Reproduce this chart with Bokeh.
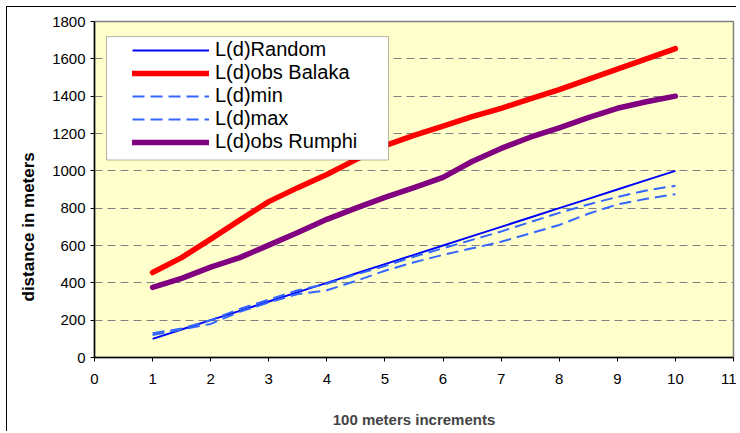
import math
from bokeh.plotting import figure
from bokeh.models import (Range1d, FixedTicker, Legend, LegendItem, BoxAnnotation, Title)
from bokeh.embed import file_html
from bokeh.resources import INLINE

# ---- data ----
x_vals = [1, 1.5, 2, 2.5, 3, 3.5, 4, 4.5, 5, 5.5, 6, 6.5, 7, 7.5, 8, 8.5, 9, 9.5, 10]
ld_random = [100, 150, 200, 250, 300, 350, 400, 450, 500, 550, 600, 650, 700, 750, 800, 850, 900, 950, 1000]
ld_balaka = [455, 535, 634, 736, 835, 910, 980, 1060, 1135, 1190, 1240, 1290, 1335, 1385, 1435, 1490, 1545, 1600, 1655]
ld_min = [120, 150, 180, 245, 295, 340, 360, 410, 465, 510, 550, 585, 620, 665, 710, 770, 820, 850, 875]
ld_max = [130, 155, 200, 260, 310, 360, 395, 445, 490, 540, 585, 630, 675, 725, 775, 820, 860, 895, 920]
ld_rumphi = [376, 424, 484, 535, 602, 670, 740, 800, 858, 910, 965, 1050, 1120, 1180, 1230, 1285, 1335, 1370, 1400]

x_ticks = list(range(0, 12))
y_ticks = list(range(0, 2000, 200))

FONT = "Liberation Sans"

p = figure(width=730, height=425, output_backend="svg", toolbar_location=None,
           x_range=Range1d(0, 11), y_range=Range1d(0, 1800),
           min_border_left=87, min_border_top=14, min_border_right=4, min_border_bottom=75,
           background_fill_color="#FFFFCC", border_fill_color="white",
           outline_line_color="#808080", outline_line_width=1.5,
           styles={"border-left": "1px solid black", "border-top": "1px solid black",
                   "margin-left": "6px", "margin-top": "6px"})

p.xgrid.visible = False
p.ygrid.grid_line_color = "#808080"
p.ygrid.grid_line_dash = "8 5"
p.ygrid.grid_line_width = 1

for ax in (p.xaxis[0], p.yaxis[0]):
    ax.axis_line_color = "black"
    ax.axis_line_width = 1.5
    ax.major_tick_in = 0
    ax.major_tick_out = 4
    ax.major_tick_line_color = "black"
    ax.minor_tick_line_color = None
    ax.major_label_text_font = FONT
    ax.major_label_text_font_size = "15px"
    ax.major_label_text_color = "black"

p.xaxis.ticker = FixedTicker(ticks=x_ticks)
p.yaxis.ticker = FixedTicker(ticks=y_ticks)
p.xaxis.major_label_standoff = 12
p.yaxis.major_label_standoff = 5
p.xaxis.axis_label = "100 meters increments"
p.xaxis.axis_label_text_font = FONT
p.xaxis.axis_label_text_font_style = "bold"
p.xaxis.axis_label_text_font_size = "15px"
p.xaxis.axis_label_standoff = 24

ytitle = Title(text="distance in meters", align="left", offset=56, standoff=20,
               vertical_align="top",
               text_font=FONT, text_font_style="bold", text_font_size="17px",
               text_color="black")
p.add_layout(ytitle, "left")

r_random = p.line(x_vals, ld_random, line_color="#0000FF", line_width=2)
r_balaka = p.line(x_vals, ld_balaka, line_color="#FF0000", line_width=5.5, line_cap="round", line_join="round")
r_min = p.line(x_vals, ld_min, line_color="#3366FF", line_width=2, line_dash="12 6")
r_max = p.line(x_vals, ld_max, line_color="#3366FF", line_width=2, line_dash="12 6")
r_rumphi = p.line(x_vals, ld_rumphi, line_color="#800080", line_width=5.5, line_cap="round", line_join="round")

box = BoxAnnotation(left=0.207, right=5.06, top=1719, bottom=1058,
                    fill_color="white", fill_alpha=1.0,
                    line_color="black", line_width=1, level="overlay")
p.add_layout(box)

legend = Legend(items=[
    LegendItem(label="L(d)Random", renderers=[r_random]),
    LegendItem(label="L(d)obs Balaka", renderers=[r_balaka]),
    LegendItem(label="L(d)min", renderers=[r_min]),
    LegendItem(label="L(d)max", renderers=[r_max]),
    LegendItem(label="L(d)obs Rumphi", renderers=[r_rumphi]),
], location=(34, 200), padding=4, spacing=-2, margin=0,
    glyph_width=77, glyph_height=20, label_height=20, label_standoff=6,
    label_text_font=FONT, label_text_font_size="20px", label_text_color="black",
    background_fill_alpha=0, border_line_alpha=0)
p.add_layout(legend)

open("out.html", "w").write(file_html(p, INLINE))
